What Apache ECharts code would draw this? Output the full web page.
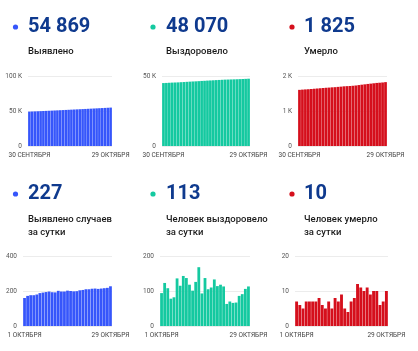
<!DOCTYPE html>
<html><head><meta charset="utf-8">
<script src="https://cdn.jsdelivr.net/npm/echarts@6/dist/echarts.min.js"></script>
<style>html,body{margin:0;padding:0;background:#fff}#c{width:418px;height:351px}</style>
</head><body><div id="c"></div>
<script>
var datesTop = ['30 сентября','1 октября','2 октября','3 октября','4 октября','5 октября','6 октября','7 октября','8 октября','9 октября','10 октября','11 октября','12 октября','13 октября','14 октября','15 октября','16 октября','17 октября','18 октября','19 октября','20 октября','21 октября','22 октября','23 октября','24 октября','25 октября','26 октября','27 октября','28 октября','29 октября'];
var datesBottom = datesTop.slice(1);

var casesTotal = [49112,49272,49444,49620,49796,49976,50164,50355,50549,50746,50939,51131,51332,51529,51726,51928,52128,52326,52525,52729,52935,53145,53355,53568,53782,53994,54208,54424,54642,54869];
var recoveredTotal = [44956,45050,45173,45281,45359,45441,45577,45692,45835,45972,46090,46191,46317,46485,46578,46715,46820,46930,47063,47177,47295,47408,47471,47541,47607,47674,47760,47851,47957,48070];
var deathsTotal = [1604,1611,1617,1622,1629,1636,1643,1650,1658,1664,1669,1676,1681,1689,1696,1705,1710,1714,1721,1729,1741,1752,1762,1773,1782,1792,1802,1808,1815,1825];

var casesDaily = [160,172,176,176,180,188,191,194,197,193,192,201,197,197,202,200,198,199,204,206,210,210,213,214,212,214,216,218,227];
var recoveredDaily = [94,123,108,78,82,136,115,143,137,118,101,126,168,93,137,105,110,133,114,118,113,63,70,66,67,86,91,106,113];
var deathsDaily = [7,6,5,7,7,7,7,8,6,5,7,5,8,7,9,5,4,7,8,12,11,10,11,9,10,10,6,7,10];

var headlines = ['54 869','48 070','1 825','227','113','10'];
var captions = [['Выявлено'],['Выздоровело'],['Умерло'],['Выявлено случаев','за сутки'],['Человек выздоровело','за сутки'],['Человек умерло','за сутки']];

var BLUE='#3656fb', TEAL='#14c9a0', RED='#d50f1c', NAVY='#0f3a8e';
var FONT='Roboto, "Noto Sans", sans-serif';

var panels = [
  {left:28, width:84, top:76, x:28, dot:15.5, numY:27, capY:52, color:BLUE, dates:datesTop, data:casesTotal, max:100000, interval:50000, gap:'8%'},
  {left:162, width:88, top:76, x:166, dot:153, numY:27, capY:52, color:TEAL, dates:datesTop, data:recoveredTotal, max:50000, interval:50000, gap:'8%'},
  {left:298, width:89, top:76, x:304, dot:292, numY:27, capY:52, color:RED, dates:datesTop, data:deathsTotal, max:2000, interval:1000, gap:'8%'},
  {left:23, width:89, top:256, x:28, dot:15.5, numY:194, capY:220, color:BLUE, dates:datesBottom, data:casesDaily, max:400, interval:200, gap:'10%'},
  {left:160, width:90, top:256, x:166, dot:153, numY:194, capY:220, color:TEAL, dates:datesBottom, data:recoveredDaily, max:200, interval:100, gap:'10%'},
  {left:295, width:93, top:256, x:304, dot:292, numY:194, capY:220, color:RED, dates:datesBottom, data:deathsDaily, max:20, interval:10, gap:'10%'}
];

function kfmt(v){ if(v===0) return '0'; if(v>=1000) return (v/1000)+' K'; return String(v); }

var grid=[], xAxis=[], yAxis=[], series=[], graphic=[];
panels.forEach(function(p,i){
  grid.push({left:p.left, width:p.width, top:p.top, height:70, containLabel:false});
  var n = p.dates.length;
  xAxis.push({type:'category', gridIndex:i, data:p.dates, boundaryGap:true,
    axisLine:{show:false}, axisTick:{show:false},
    axisLabel:{interval:0, margin:6, fontSize:6.5, color:'#444', fontFamily:FONT,
      formatter:function(v,idx){ return (idx===0||idx===n-1)? v.toUpperCase() : ''; }}});
  yAxis.push({type:'value', gridIndex:i, min:0, max:p.max, interval:p.interval,
    axisLine:{show:false}, axisTick:{show:false},
    splitLine:{lineStyle:{color:'#ececec', width:1}},
    axisLabel:{fontSize:6.5, color:'#555', margin:6, fontFamily:FONT, formatter:kfmt}});
  series.push({type:'bar', xAxisIndex:i, yAxisIndex:i, data:p.data, barCategoryGap:p.gap,
    itemStyle:{color:p.color}, silent:true, animation:false});
  graphic.push({type:'circle', shape:{cx:p.dot, cy:p.numY, r:2.6}, style:{fill:p.color}});
  graphic.push({type:'text', x:p.x, y:p.numY, style:{text:headlines[i], font:'bold 20px '+FONT, fill:NAVY, textVerticalAlign:'middle', textAlign:'left'}});
  captions[i].forEach(function(t,j){
    graphic.push({type:'text', x:p.x, y:p.capY+j*13, style:{text:t, font:'500 9.5px '+FONT, fill:'#1a1a1a', textVerticalAlign:'middle', textAlign:'left'}});
  });
});

var chart = echarts.init(document.getElementById('c'), null, {renderer:'canvas'});
chart.setOption({animation:false, grid:grid, xAxis:xAxis, yAxis:yAxis, series:series, graphic:graphic});
</script></body></html>
